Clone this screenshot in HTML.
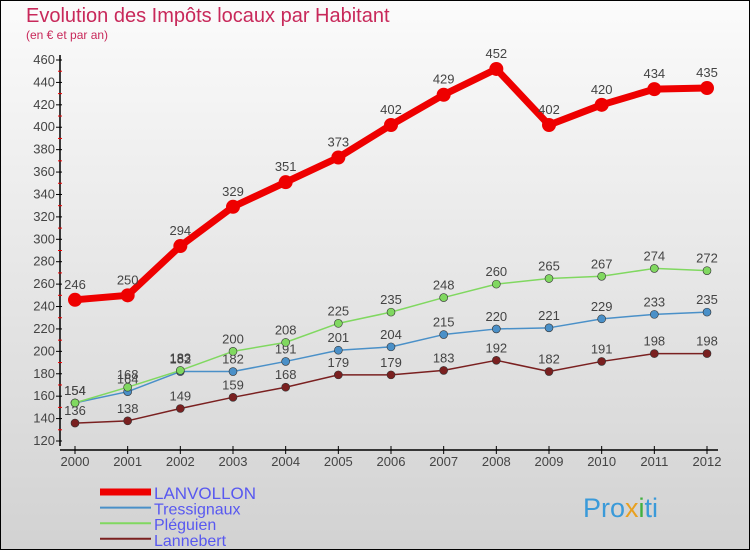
<!DOCTYPE html>
<html><head><meta charset="utf-8"><style>
body{margin:0;width:750px;height:550px;overflow:hidden}
svg{display:block;font-family:"Liberation Sans",sans-serif}
</style></head><body>
<svg id="c" width="750" height="550">
<defs><linearGradient id="bg" x1="0" y1="0" x2="0" y2="1"><stop offset="0" stop-color="#fbfbfb"/><stop offset="1" stop-color="#d2d2d2"/></linearGradient></defs>
<rect x="0.5" y="0.5" width="749" height="549" fill="url(#bg)" stroke="#000"/>
<text x="26" y="22" font-size="20" fill="#c8285a" font-weight="300">Evolution des Impôts locaux par Habitant</text>
<text x="26" y="39" font-size="12" fill="#c8285a">(en € et par an)</text>
<g id="axes"></g><g id="series"></g><g id="legend"></g>
<text x="583" y="517" font-size="27" fill="#3a9ad9">Pro<tspan fill="#e8a020">x</tspan><tspan fill="#40b040">i</tspan>ti</text>
</svg>
<script>
const years=[2000,2001,2002,2003,2004,2005,2006,2007,2008,2009,2010,2011,2012];
const yTicks=[120,140,160,180,200,220,240,260,280,300,320,340,360,380,400,420,440,460];
const lanvollon=[246,250,294,329,351,373,402,429,452,402,420,434,435];
const tressignaux=[154,164,182,182,191,201,204,215,220,221,229,233,235];
const pleguien=[154,168,183,200,208,225,235,248,260,265,267,274,272];
const lannebert=[136,138,149,159,168,179,179,183,192,182,191,198,198];
const NS='http://www.w3.org/2000/svg';
const X=i=>75+i*(707-75)/(years.length-1);
const Y=v=>441-(v-120)*(441-60)/340;
function mk(t,a,p){const e=document.createElementNS(NS,t);for(const k in a)e.setAttribute(k,a[k]);(p||document.getElementById('series')).appendChild(e);return e;}
const ax=document.getElementById('axes');
let e=mk('line',{x1:60,y1:55,x2:60,y2:446,stroke:'#000','stroke-width':1.5},ax);


e=mk('line',{x1:60,y1:450,x2:718,y2:450,stroke:'#000','stroke-width':1.5},ax);


yTicks.forEach((v,i)=>{
  mk('line',{x1:56,y1:Y(v),x2:62,y2:Y(v),stroke:'#000'},ax);
  if(i<yTicks.length-1)mk('line',{x1:58,y1:Y(v+10),x2:62,y2:Y(v+10),stroke:'#e00'},ax);
  const t=mk('text',{x:55,y:Y(v)+4,'font-size':13,'text-anchor':'end',fill:'#444'},ax);t.textContent=v;
  
  
});
years.forEach((y,i)=>{
  mk('line',{x1:X(i),y1:446,x2:X(i),y2:454,stroke:'#000'},ax);
  const t=mk('text',{x:X(i),y:466,'font-size':13,'text-anchor':'middle',fill:'#444'},ax);t.textContent=y;
  
  
});
const series=[
 {n:'lannebert',d:lannebert,c:'#7a2020',w:1.5,r:4,lab:'Lannebert'},
 {n:'tressignaux',d:tressignaux,c:'#4a90c8',w:1.5,r:4,lab:'Tressignaux'},
 {n:'pleguien',d:pleguien,c:'#80d860',w:1.5,r:4,lab:'Pléguien'},
 {n:'lanvollon',d:lanvollon,c:'#ee0000',w:7,r:7,lab:'LANVOLLON'}];
series.forEach(s=>{
  const g=mk('g',{});
  
  
  mk('polyline',{points:s.d.map((v,i)=>X(i)+','+Y(v)).join(' '),fill:'none',stroke:s.c,'stroke-width':s.w,'stroke-linejoin':'round'},g);
  s.d.forEach((v,i)=>{
    const p=mk('circle',{cx:X(i),cy:Y(v),r:s.r,fill:s.c,stroke:s.w>2?'none':'#333','stroke-width':0.6},g);
    
    
    const t=mk('text',{x:X(i),y:Y(v)-(s.w>2?11:8),'font-size':13,'text-anchor':'middle',fill:'#444'},g);t.textContent=v;
    
    
  });
});
const lg=document.getElementById('legend');
[series[3],series[1],series[2],series[0]].forEach((s,i)=>{
  const y=492+i*15.6;
  const g=mk('g',{},lg);
  
  
  mk('line',{x1:100,y1:y,x2:151,y2:y,stroke:s.c,'stroke-width':s.w>2?7:2},g);
  const t=mk('text',{x:154,y:y+7,'font-size':i==0?17:16,fill:'#5858f0'},g);t.textContent=s.lab;
});
</script>
</body></html>
